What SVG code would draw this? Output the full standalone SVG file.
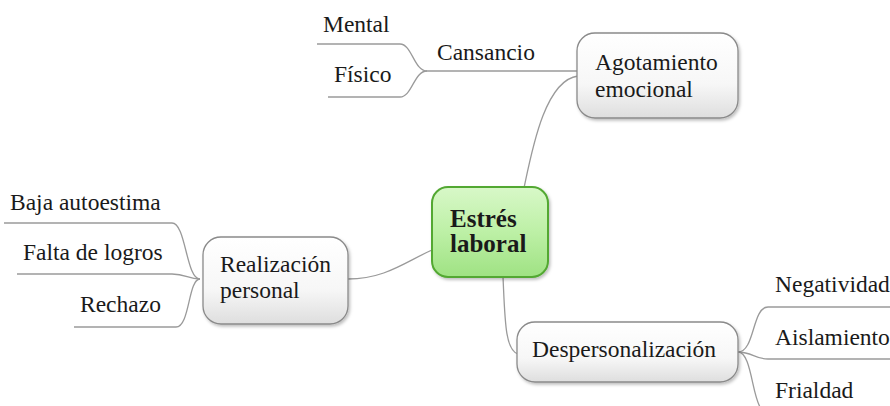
<svg xmlns="http://www.w3.org/2000/svg" width="890" height="406" viewBox="0 0 890 406">
<style>
text{font-family:"Liberation Serif","Times New Roman",serif;font-size:23.5px;fill:#1a1a1a}
.b{font-weight:bold;font-size:25px}
.c{fill:none;stroke:#9a9a9a;stroke-width:1.3}
.n{fill:url(#g);stroke:#8a8a8a;stroke-width:1.3;filter:url(#s)}
.m{fill:url(#gg);stroke:#52a832;stroke-width:2;filter:url(#s)}
</style>
<defs>
<linearGradient id="g" x1="0" y1="0" x2="0" y2="1"><stop offset="0" stop-color="#ffffff"/><stop offset="0.6" stop-color="#f7f7f7"/><stop offset="1" stop-color="#dedede"/></linearGradient>
<linearGradient id="gg" x1="0" y1="0" x2="0" y2="1"><stop offset="0" stop-color="#d8f8c8"/><stop offset="0.5" stop-color="#bdf0a6"/><stop offset="1" stop-color="#9fe283"/></linearGradient>
<filter id="s" x="-10%" y="-10%" width="125%" height="130%"><feDropShadow dx="1.5" dy="2" stdDeviation="1.5" flood-color="#000" flood-opacity="0.25"/></filter>
</defs>
<g id="connectors">
<path class="c" d="M524,188 C532,150 545,80 578,76"/>
<path class="c" d="M578,71 L427,71"/>
<path class="c" d="M427,71 C414,71 412,44 400,44 L317,44"/>
<path class="c" d="M427,71 C414,71 412,97 400,97 L328,97"/>
<path class="c" d="M348,279 C385,279 405,262 432,250"/>
<path class="c" d="M200,279 C186,279 186,223 172,223 L4,223"/>
<path class="c" d="M200,279 C188,279 186,274 172,274 L17,274"/>
<path class="c" d="M200,279 C188,279 190,327 176,327 L74,327"/>
<path class="c" d="M503,277 C505,320 505,350 518,354"/>
<path class="c" d="M738,352 C755,352 752,307 768,307 L890,307"/>
<path class="c" d="M738,352 C752,352 755,359 768,359 L890,359"/>
<path class="c" d="M738,352 C752,352 752,400 762,410"/>
</g>
<g id="mental"><text x="323" y="32">Mental</text></g>
<g id="fisico"><text x="334" y="82">Físico</text></g>
<g id="cansancio"><text x="437" y="60">Cansancio</text></g>
<g id="agotamiento">
<rect class="n" x="577" y="33" width="161" height="85" rx="18"/>
<text x="595" y="70">Agotamiento</text>
<text x="595" y="97">emocional</text>
</g>
<g id="estres">
<rect class="m" x="432" y="187" width="116" height="90" rx="16"/>
<text class="b" x="450" y="227">Estrés</text>
<text class="b" x="450" y="252">laboral</text>
</g>
<g id="realizacion">
<rect class="n" x="203" y="237" width="145" height="87" rx="18"/>
<text x="220" y="272">Realización</text>
<text x="220" y="298">personal</text>
</g>
<g id="baja"><text x="10" y="210">Baja autoestima</text></g>
<g id="falta"><text x="23" y="260">Falta de logros</text></g>
<g id="rechazo"><text x="80" y="312">Rechazo</text></g>
<g id="despersonalizacion">
<rect class="n" x="517" y="322" width="221" height="60" rx="18"/>
<text x="532" y="357">Despersonalización</text>
</g>
<g id="negatividad"><text x="775" y="292">Negatividad</text></g>
<g id="aislamiento"><text x="775" y="345">Aislamiento</text></g>
<g id="frialdad"><text x="775" y="398">Frialdad</text></g>
</svg>
